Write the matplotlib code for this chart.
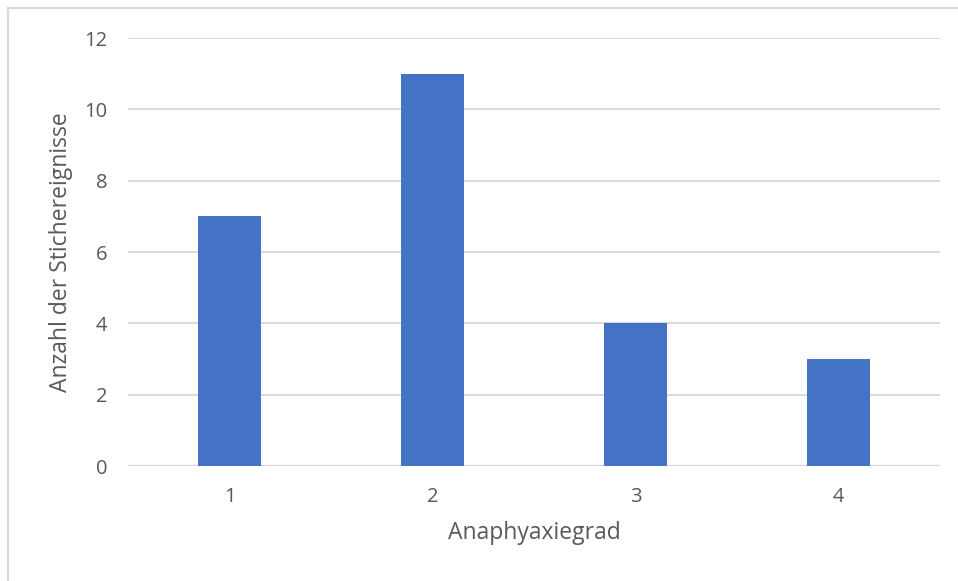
import matplotlib
matplotlib.use("Agg")
import matplotlib.pyplot as plt
from matplotlib.lines import Line2D

categories = ["1", "2", "3", "4"]
counts = [7, 11, 4, 3]
yticks = [0, 2, 4, 6, 8, 10, 12]

plt.rcParams["font.family"] = ["Open Sans", "DejaVu Sans"]
text_color = "#595959"
grid_color = "#d9d9d9"
bar_color = "#4472c4"

fig = plt.figure(figsize=(9.58, 5.81), dpi=100)
W, H = 958, 581
ax = fig.add_axes([128 / W, 1 - 466 / H, (940 - 128) / W, (466 - 38) / H])

x = range(len(categories))
ax.bar(x, counts, width=0.315, color=bar_color, zorder=3)
ax.set_xlim(-0.5, len(categories) - 0.5)
ax.set_ylim(0, 12)
ax.set_yticks(yticks)
ax.set_xticks(list(x))
ax.set_xticklabels(categories)
ax.grid(axis="y", color=grid_color, linewidth=1.4, zorder=0)
for s in ax.spines.values():
    s.set_visible(False)
ax.axhline(0, color=grid_color, linewidth=1.6, zorder=2)
ax.tick_params(length=0, labelsize=14.5, colors=text_color)
ax.tick_params(axis="x", pad=15)
ax.tick_params(axis="y", pad=15)
ax.set_xlabel("Anaphyaxiegrad", fontsize=16.5, color=text_color, labelpad=10)
ax.set_ylabel("Anzahl der Stichereignisse", fontsize=16.5, color=text_color, labelpad=8)

# outer chart frame (top and left edges)
fig.add_artist(Line2D([8 / W, 8 / W], [0, 1 - 8 / H], transform=fig.transFigure,
                      color="#d9d9d9", linewidth=1.5))
fig.add_artist(Line2D([8 / W, 1], [1 - 8 / H, 1 - 8 / H], transform=fig.transFigure,
                      color="#d9d9d9", linewidth=1.5))

fig.savefig("out.png", dpi=100)
